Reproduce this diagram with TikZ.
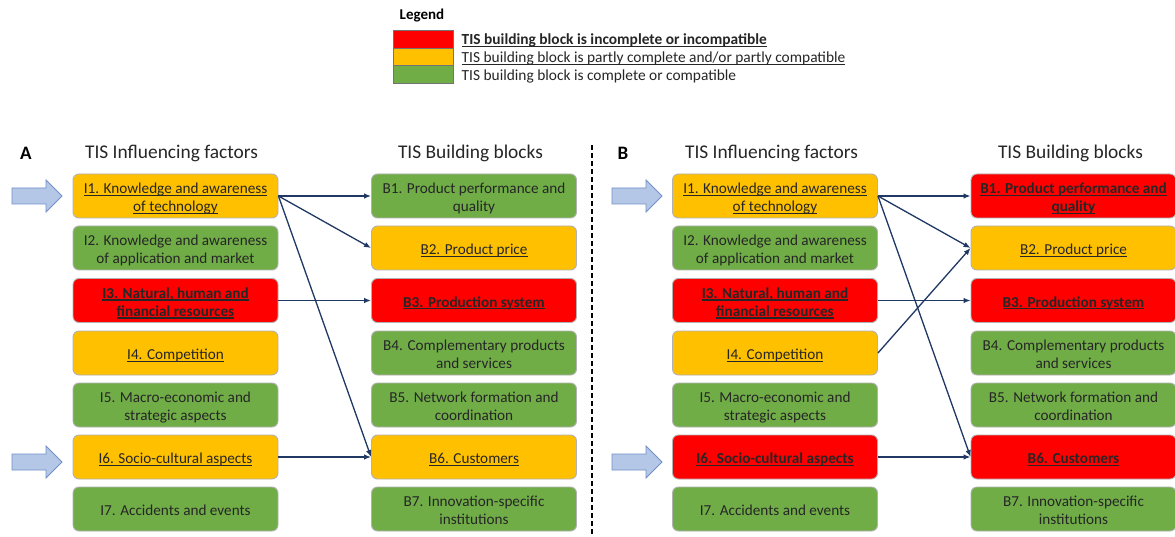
\documentclass[tikz,border=0pt]{standalone}
\usepackage{fontspec}
\setmainfont{Carlito}
\usetikzlibrary{arrows.meta}

\definecolor{okgreen}{RGB}{112,173,71}
\definecolor{partorange}{RGB}{255,192,0}
\definecolor{badred}{RGB}{255,0,0}
\definecolor{linknavy}{RGB}{31,56,100}
\definecolor{arrowfill}{RGB}{180,199,231}
\definecolor{arrowedge}{RGB}{114,143,200}
\definecolor{inktext}{RGB}{38,38,38}

% underline close to the baseline, keeping the natural box size
\newcommand{\uln}[1]{\setbox0\hbox{#1}\rlap{\rule[-2.4pt]{\wd0}{1.3pt}}\box0}
% centred lines of a block, lowered slightly without changing its size
\newcommand{\blk}[1]{\raisebox{-3pt}[\height][\depth]{\begin{tabular}{@{}c@{}}#1\end{tabular}}}

\tikzset{
  block/.style={rectangle, rounded corners=6pt, draw=black!30, line width=0.9pt,
    minimum width=205pt, minimum height=44pt, inner sep=1pt,
    text=inktext, font=\fontsize{15.2}{18}\selectfont},
  gbox/.style={block, fill=okgreen},
  obox/.style={block, fill=partorange},
  rbox/.style={block, fill=badred},
  header/.style={text=inktext, font=\fontsize{19.4}{22}\selectfont},
  panel/.style={text=black, font=\fontsize{19}{22}\selectfont\bfseries},
  link/.style={draw=linknavy, line width=1.3pt, -{Latex[length=7pt,width=5.5pt]}},
  inflow/.style={fill=arrowfill, draw=arrowedge, line width=0.9pt},
  legswatch/.style={rectangle, draw=black!55, line width=0.6pt, minimum width=60pt,
    minimum height=17.5pt, inner sep=0pt},
  legtext/.style={anchor=base west, text=inktext, inner sep=0pt, font=\fontsize{15.4}{17}\selectfont},
}

\begin{document}
\begin{tikzpicture}[x=1pt, y=-1pt]
\useasboundingbox[fill=white] (0,0) rectangle (1175,537);

% ---------- legend ----------
\node[text=black, font=\fontsize{15}{17}\selectfont\bfseries, anchor=base west, inner sep=0pt] (legtitle) at (399.5,19.5) {Legend};
\node[legswatch, fill=badred] (sw1) at (423.5,39.2) {};
\node[legswatch, fill=partorange] (sw2) at (423.5,56.7) {};
\node[legswatch, fill=okgreen] (sw3) at (423.5,74.2) {};
\node[legtext] (leg1) at (461.5,45) {\bfseries\uln{TIS building block is incomplete or incompatible}};
\node[legtext] (leg2) at (461.5,62.8) {\uln{TIS building block is partly complete and/or partly compatible}};
\node[legtext] (leg3) at (461.5,80.7) {TIS building block is complete or compatible};

% ---------- separator ----------
\draw[line width=1.8pt, dash pattern=on 5pt off 3pt] (592,145) -- (592,537);

% ---------- panel A ----------
\node[panel] (labA) at (26,153) {A};
\node[header] (hA1) at (171.5,153) {TIS Influencing factors};
\node[header] (hA2) at (470.5,153) {TIS Building blocks};

\node[obox] (aI1) at (175.5,196) {\blk{\uln{I1. Knowledge and awareness}\\\uln{of technology}}};
\node[gbox] (aI2) at (175.5,248) {\blk{I2. Knowledge and awareness\\of application and market}};
\node[rbox] (aI3) at (175.5,300.5) {\blk{\bfseries\uln{I3. Natural, human and}\\\bfseries\uln{financial resources}}};
\node[obox] (aI4) at (175.5,353) {\blk{\uln{I4. Competition}}};
\node[gbox] (aI5) at (175.5,405) {\blk{I5. Macro-economic and\\strategic aspects}};
\node[obox] (aI6) at (175.5,457) {\blk{\uln{I6. Socio-cultural aspects}}};
\node[gbox] (aI7) at (175.5,509) {\blk{I7. Accidents and events}};

\node[gbox] (aB1) at (474,196) {\blk{B1. Product performance and\\quality}};
\node[obox] (aB2) at (474,248) {\blk{\uln{B2. Product price}}};
\node[rbox] (aB3) at (474,300.5) {\blk{\bfseries\uln{B3. Production system}}};
\node[gbox] (aB4) at (474,353) {\blk{B4. Complementary products\\and services}};
\node[gbox] (aB5) at (474,405) {\blk{B5. Network formation and\\coordination}};
\node[obox] (aB6) at (474,457) {\blk{\uln{B6. Customers}}};
\node[gbox] (aB7) at (474,509) {\blk{B7. Innovation-specific\\institutions}};

\draw[link] (aI1.east) -- (aB1.west);
\draw[link] (aI1.east) -- (aB2.west);
\draw[link] (aI1.east) -- (aB6.west);
\draw[link] (aI3.east) -- (aB3.west);
\draw[link] (aI6.east) -- (aB6.west);

\draw[inflow] (12,196) ++(0,-8) -- ++(34,0) -- ++(0,-8) -- ++(16,16) -- ++(-16,16) -- ++(0,-8) -- ++(-34,0) -- cycle;
\draw[inflow] (12,462) ++(0,-8) -- ++(34,0) -- ++(0,-8) -- ++(16,16) -- ++(-16,16) -- ++(0,-8) -- ++(-34,0) -- cycle;

% ---------- panel B ----------
\node[panel] (labB) at (623,153) {B};
\node[header] (hB1) at (771.5,153) {TIS Influencing factors};
\node[header] (hB2) at (1070.5,153) {TIS Building blocks};

\node[obox] (bI1) at (775,196) {\blk{\uln{I1. Knowledge and awareness}\\\uln{of technology}}};
\node[gbox] (bI2) at (775,248) {\blk{I2. Knowledge and awareness\\of application and market}};
\node[rbox] (bI3) at (775,300.5) {\blk{\bfseries\uln{I3. Natural, human and}\\\bfseries\uln{financial resources}}};
\node[obox] (bI4) at (775,353) {\blk{\uln{I4. Competition}}};
\node[gbox] (bI5) at (775,405) {\blk{I5. Macro-economic and\\strategic aspects}};
\node[rbox] (bI6) at (775,457) {\blk{\bfseries\uln{I6. Socio-cultural aspects}}};
\node[gbox] (bI7) at (775,509) {\blk{I7. Accidents and events}};

\node[rbox] (bB1) at (1073.5,196) {\blk{\bfseries\uln{B1. Product performance and}\\\bfseries\uln{quality}}};
\node[obox] (bB2) at (1073.5,248) {\blk{\uln{B2. Product price}}};
\node[rbox] (bB3) at (1073.5,300.5) {\blk{\bfseries\uln{B3. Production system}}};
\node[gbox] (bB4) at (1073.5,353) {\blk{B4. Complementary products\\and services}};
\node[gbox] (bB5) at (1073.5,405) {\blk{B5. Network formation and\\coordination}};
\node[rbox] (bB6) at (1073.5,457) {\blk{\bfseries\uln{B6. Customers}}};
\node[gbox] (bB7) at (1073.5,509) {\blk{B7. Innovation-specific\\institutions}};

\draw[link] (bI1.east) -- (bB1.west);
\draw[link] (bI1.east) -- (bB2.west);
\draw[link] (bI1.east) -- (bB6.west);
\draw[link] (bI3.east) -- (bB3.west);
\draw[link] (bI4.east) -- (bB2.west);
\draw[link] (bI6.east) -- (bB6.west);

\draw[inflow] (612,196) ++(0,-8) -- ++(34,0) -- ++(0,-8) -- ++(16,16) -- ++(-16,16) -- ++(0,-8) -- ++(-34,0) -- cycle;
\draw[inflow] (612,462) ++(0,-8) -- ++(34,0) -- ++(0,-8) -- ++(16,16) -- ++(-16,16) -- ++(0,-8) -- ++(-34,0) -- cycle;
\end{tikzpicture}
\end{document}
